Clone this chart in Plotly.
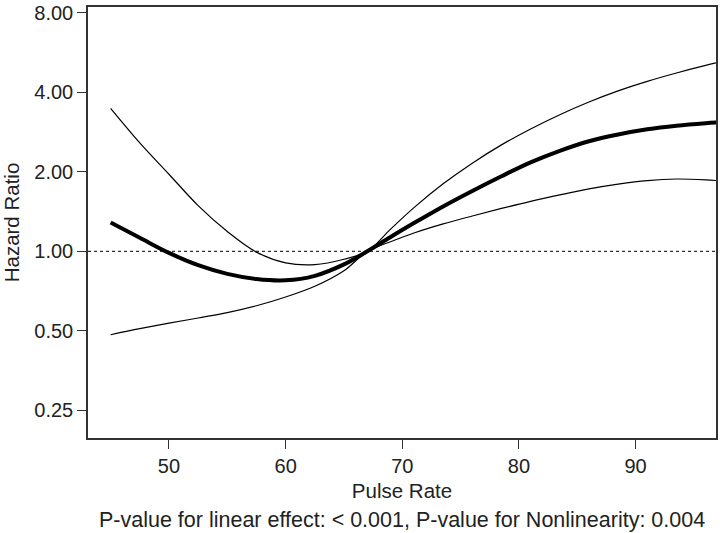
import plotly.graph_objects as go

pulse = [45, 47.5, 50, 52.5, 55, 57.5, 60, 62.5, 65, 67, 69, 71, 73.5, 76, 78.5, 81, 83.5, 86, 88.5, 91, 93.5, 96, 97]
hr = [1.285, 1.125, 0.986, 0.886, 0.821, 0.785, 0.776, 0.807, 0.892, 1.0, 1.133, 1.279, 1.479, 1.693, 1.925,
      2.173, 2.403, 2.612, 2.770, 2.898, 2.990, 3.057, 3.078]
upper = [3.482, 2.576, 1.959, 1.490, 1.189, 0.993, 0.904, 0.890, 0.933, 1.0, 1.214, 1.464, 1.802, 2.158, 2.531,
         2.908, 3.294, 3.681, 4.056, 4.407, 4.740, 5.063, 5.187]
lower = [0.483, 0.509, 0.534, 0.559, 0.586, 0.622, 0.671, 0.737, 0.844, 1.0, 1.087, 1.173, 1.270, 1.361, 1.454,
         1.547, 1.636, 1.723, 1.796, 1.853, 1.879, 1.866, 1.853]

y_ticks = [0.25, 0.5, 1, 2, 4, 8]
y_tick_labels = ["0.25", "0.50", "1.00", "2.00", "4.00", "8.00"]
x_ticks = [50, 60, 70, 80, 90]

fig = go.Figure()
fig.add_trace(go.Scatter(x=pulse, y=upper, mode="lines",
                         line=dict(color="black", width=1.2, shape="spline", smoothing=1.0)))
fig.add_trace(go.Scatter(x=pulse, y=lower, mode="lines",
                         line=dict(color="black", width=1.2, shape="spline", smoothing=1.0)))
fig.add_trace(go.Scatter(x=pulse, y=hr, mode="lines",
                         line=dict(color="black", width=4, shape="spline", smoothing=1.0)))

fig.add_shape(type="line", xref="paper", x0=0, x1=1, yref="y", y0=1, y1=1,
              line=dict(color="#333333", width=1.2, dash="dot"), layer="below")

font_family = "Liberation Sans, Arial, sans-serif"
fig.update_layout(
    width=720, height=533,
    margin=dict(l=88, r=2, t=4, b=95),
    paper_bgcolor="white", plot_bgcolor="white",
    showlegend=False,
    font=dict(family=font_family, size=20, color="#222222"),
    xaxis=dict(range=[43.06, 96.89], tickvals=x_ticks, ticks="outside", ticklen=9,
               tickwidth=1.3, tickcolor="#333333", showline=True, linecolor="#333333",
               linewidth=1.5, mirror=True, showgrid=False, zeroline=False,
               ticklabeloverflow="allow",
               title=dict(text="Pulse Rate", standoff=8, font=dict(size=20.5))),
    yaxis=dict(type="log", range=[-0.7074, 0.9257], tickvals=y_ticks, ticktext=y_tick_labels,
               ticks="outside", ticklen=9, tickwidth=1.3, tickcolor="#333333",
               showline=True, linecolor="#333333", linewidth=1.5, mirror=True,
               showgrid=False, zeroline=False, ticklabeloverflow="allow",
               title=dict(text="Hazard Ratio", standoff=10, font=dict(size=20.5))),
)

fig.add_annotation(text="P-value for linear effect: < 0.001, P-value for Nonlinearity: 0.004",
                   xref="paper", yref="paper", x=0.5, y=0, yanchor="middle",
                   yshift=-(520 - 438), showarrow=False, font=dict(size=21.5, color="#222222"))

fig.write_html("out.html", config={"displayModeBar": False},
               post_script="document.body.style.margin='0';document.body.style.overflow='hidden';")
